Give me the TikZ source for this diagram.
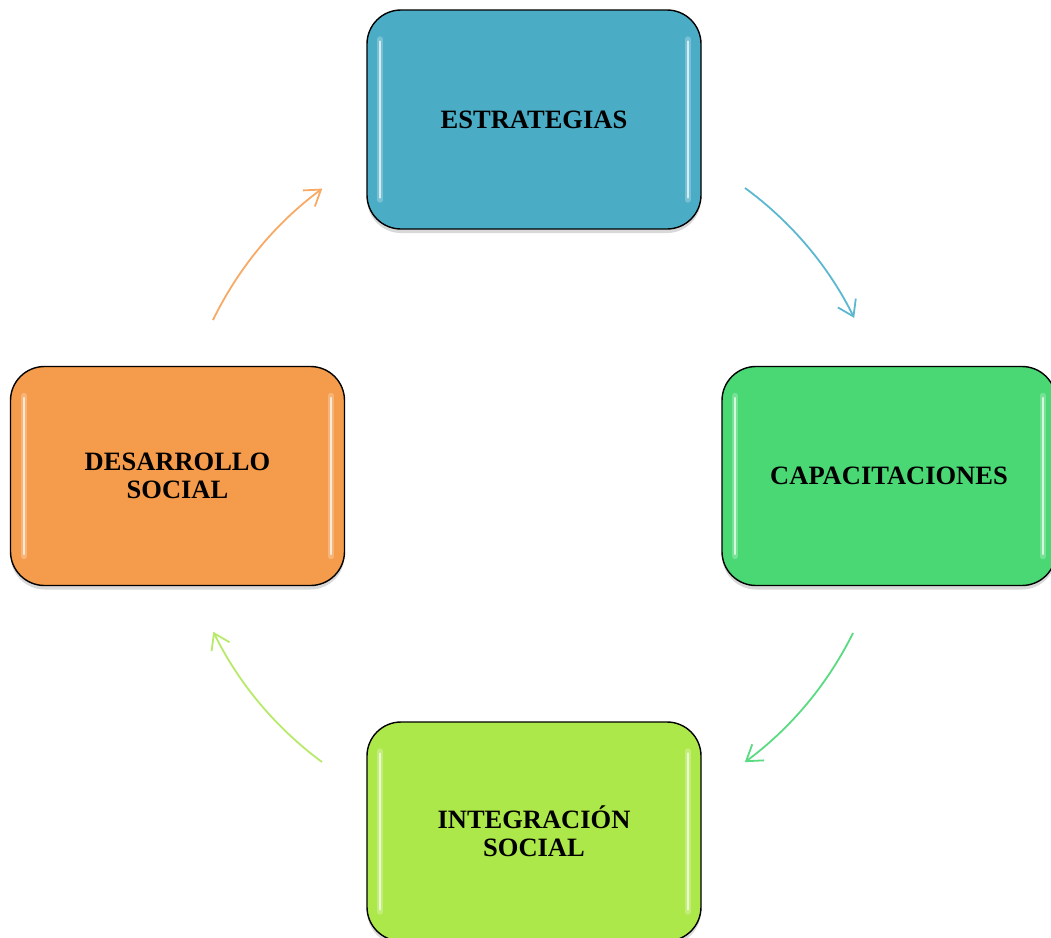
\documentclass[tikz,border=0pt]{standalone}
\usepackage{fontspec}
\setmainfont{Liberation Serif}
\usetikzlibrary{arrows.meta,shadows}
\definecolor{cBlue}{HTML}{4BACC6}
\definecolor{cGreen}{HTML}{4AD874}
\definecolor{cLime}{HTML}{ADE84B}
\definecolor{cOrange}{HTML}{F59B4C}
\definecolor{aBlue}{HTML}{5BB8D0}
\definecolor{aGreen}{HTML}{5ADB82}
\definecolor{aLime}{HTML}{B8EA6A}
\definecolor{aOrange}{HTML}{F7AA66}
\tikzset{
  box/.style={draw=black, line width=1.4pt, rounded corners=34pt,
    minimum width=334pt, minimum height=219pt, align=center,
    font=\fontsize{26.5}{28}\selectfont\bfseries,
    drop shadow={shadow xshift=0pt, shadow yshift=-4pt, opacity=0.3}},
  glowsoft/.style={white, line width=6pt, opacity=0.25, line cap=round},
  glowcore/.style={white, line width=2pt, opacity=0.7, line cap=round},
  arr/.style={line width=1.8pt, -{Straight Barb[length=15pt,width=20pt,line width=1.8pt]}}
}
\begin{document}
\begin{tikzpicture}[x=1pt,y=-1pt]
\useasboundingbox (0,0) rectangle (1051,937);
\node[box, fill=cBlue] (est) at (534,119.5) {ESTRATEGIAS};
\node[box, fill=cGreen] (cap) at (889,476) {CAPACITACIONES};
\node[box, fill=cLime] (int) at (534,831.5) {INTEGRACIÓN\\SOCIAL};
\node[box, fill=cOrange] (des) at (177.5,476) {DESARROLLO\\SOCIAL};
% gloss highlights
\foreach \n in {est,cap,int,des}{
  \draw[glowsoft] ([xshift=14pt,yshift=-30pt]\n.north west) -- ([xshift=14pt,yshift=30pt]\n.south west);
  \draw[glowcore] ([xshift=14pt,yshift=-32pt]\n.north west) -- ([xshift=14pt,yshift=32pt]\n.south west);
  \draw[glowsoft] ([xshift=-14pt,yshift=-30pt]\n.north east) -- ([xshift=-14pt,yshift=30pt]\n.south east);
  \draw[glowcore] ([xshift=-14pt,yshift=-32pt]\n.north east) -- ([xshift=-14pt,yshift=32pt]\n.south east);
}
% arrows on a circle centred at (534,476), radius 357
\coordinate (s1) at (745,188);
\coordinate (s2) at (853,633);
\coordinate (s3) at (322,762);
\coordinate (s4) at (213,320);
\draw[arr, aBlue] (s1) arc[start angle=-53.8, end angle=-26.3, radius=357];
\draw[arr, aGreen] (s2) arc[start angle=26.3, end angle=53.6, radius=357];
\draw[arr, aLime] (s3) arc[start angle=126.4, end angle=153.9, radius=357];
\draw[arr, aOrange] (s4) arc[start angle=205.9, end angle=233.6, radius=357];
\end{tikzpicture}
\end{document}
